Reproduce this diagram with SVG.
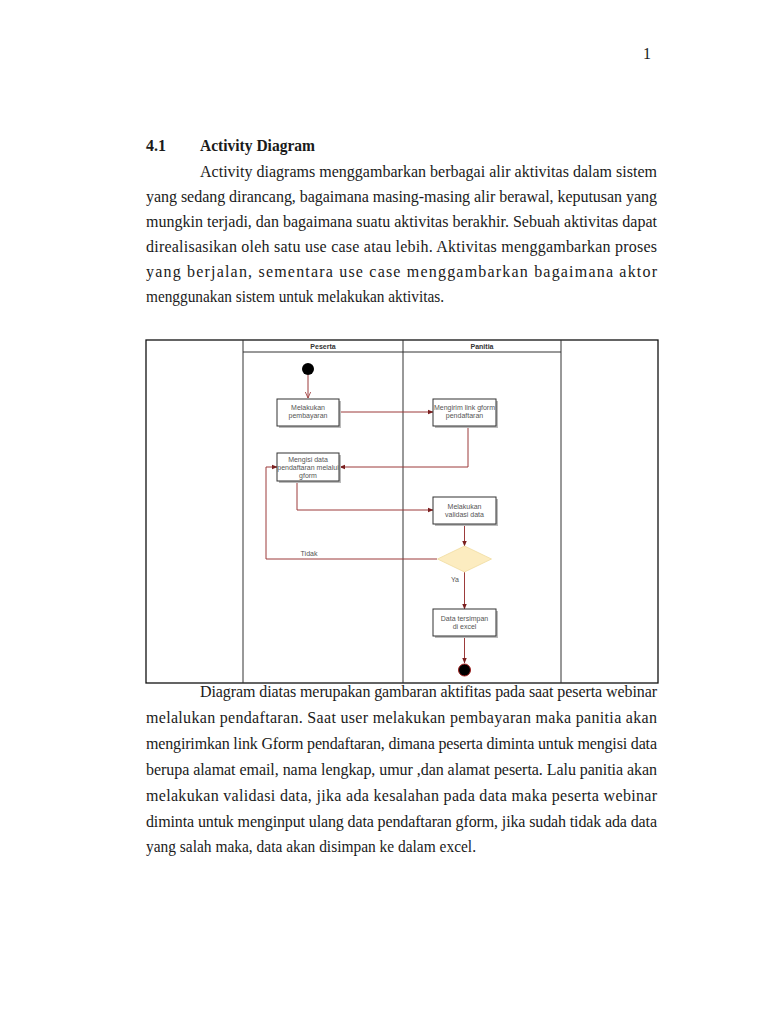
<svg xmlns="http://www.w3.org/2000/svg" width="768" height="1024" viewBox="0 0 768 1024">
<defs>
<style>
.body{font-family:"Liberation Serif","Times New Roman",serif;font-size:16px;fill:#1a1a1a}
.bold{font-weight:bold}
.lbl{font-family:"Liberation Sans",Arial,sans-serif;font-size:7px;fill:#555;text-anchor:middle}
.hdr{font-family:"Liberation Sans",Arial,sans-serif;font-size:7px;font-weight:bold;fill:#333;text-anchor:middle}
.box{fill:#fff;stroke:#333;stroke-width:1}
.shadow{fill:#bbb}
.edge{fill:none;stroke:#9c3b3b;stroke-width:1}
.frame{fill:none;stroke:#111;stroke-width:1.3}
.lane{fill:none;stroke:#333;stroke-width:1}
</style>
<marker id="arr" viewBox="0 0 10 10" refX="9" refY="5" markerWidth="6" markerHeight="6" markerUnits="userSpaceOnUse" orient="auto">
<path d="M0,1 L10,5 L0,9 Z" fill="#7a1f1f"/>
</marker>
<marker id="open" viewBox="0 0 10 10" refX="9" refY="5" markerWidth="7" markerHeight="7" markerUnits="userSpaceOnUse" orient="auto">
<path d="M0,1 L9,5 L0,9" fill="none" stroke="#9c3b3b" stroke-width="1.2"/>
</marker>
</defs>
<rect width="768" height="1024" fill="#fff"/>

<text class="body" x="643" y="59">1</text>

<g id="heading">
<text class="body bold" x="146" y="151">4.1</text>
<text class="body bold" x="200" y="151" textLength="115" lengthAdjust="spacingAndGlyphs">Activity Diagram</text>
</g>

<g id="para1">
<text class="body" x="200" y="177" textLength="457" lengthAdjust="spacing">Activity diagrams menggambarkan berbagai alir aktivitas dalam sistem</text>
<text class="body" x="146" y="202" textLength="511" lengthAdjust="spacing">yang sedang dirancang, bagaimana masing-masing alir berawal, keputusan yang</text>
<text class="body" x="146" y="227" textLength="511" lengthAdjust="spacing">mungkin terjadi, dan bagaimana suatu aktivitas berakhir. Sebuah aktivitas dapat</text>
<text class="body" x="146" y="252" textLength="511" lengthAdjust="spacing">direalisasikan oleh satu use case atau lebih. Aktivitas menggambarkan proses</text>
<text class="body" x="146" y="277" textLength="511" lengthAdjust="spacing">yang berjalan, sementara use case menggambarkan bagaimana aktor</text>
<text class="body" x="146" y="302" textLength="298" lengthAdjust="spacingAndGlyphs">menggunakan sistem untuk melakukan aktivitas.</text>
</g>

<g id="frame">
<rect class="frame" x="146" y="340" width="512" height="343"/>
<line class="lane" x1="243" y1="340" x2="243" y2="683"/>
<line class="lane" x1="403" y1="340" x2="403" y2="683"/>
<line class="lane" x1="561" y1="340" x2="561" y2="683"/>
<line class="lane" x1="243" y1="352" x2="561" y2="352"/>
<text class="hdr" x="323" y="349">Peserta</text>
<text class="hdr" x="482" y="349">Panitia</text>
</g>

<g id="connectors">
<line class="edge" x1="308" y1="375" x2="308" y2="398" marker-end="url(#open)"/>
<line class="edge" x1="339" y1="412" x2="433" y2="412" marker-end="url(#arr)"/>
<polyline class="edge" points="468,426 468,467 340,467" marker-end="url(#arr)"/>
<polyline class="edge" points="297,481 297,510 433,510" marker-end="url(#arr)"/>
<line class="edge" x1="464.5" y1="524" x2="464.5" y2="546" marker-end="url(#arr)"/>
<polyline class="edge" points="437,559 266,559 266,467 277,467" marker-end="url(#arr)"/>
<line class="edge" x1="464.5" y1="572" x2="464.5" y2="609" marker-end="url(#arr)"/>
<line class="edge" x1="464.5" y1="636" x2="464.5" y2="663" marker-end="url(#arr)"/>
<text class="lbl" x="309" y="556">Tidak</text>
<text class="lbl" x="455" y="582">Ya</text>
</g>

<g id="start">
<circle cx="308" cy="369" r="6" fill="#000"/>
</g>

<g id="melakukan-pembayaran">
<rect class="shadow" x="279" y="401" width="62" height="27"/>
<rect class="box" x="277" y="399" width="62" height="27"/>
<text class="lbl" x="308" y="410">Melakukan</text>
<text class="lbl" x="308" y="418">pembayaran</text>
</g>

<g id="mengirim-link">
<rect class="shadow" x="435" y="401" width="63" height="27"/>
<rect class="box" x="433" y="399" width="63" height="27"/>
<text class="lbl" x="464.5" y="410">Mengirim link gform</text>
<text class="lbl" x="464.5" y="418">pendaftaran</text>
</g>

<g id="mengisi-data">
<rect class="shadow" x="279" y="455" width="62" height="28"/>
<rect class="box" x="277" y="453" width="62" height="28"/>
<text class="lbl" x="308" y="462">Mengisi data</text>
<text class="lbl" x="308" y="470">pendaftaran melalui</text>
<text class="lbl" x="308" y="477.5">gform</text>
</g>

<g id="validasi">
<rect class="shadow" x="435" y="499" width="63" height="27"/>
<rect class="box" x="433" y="497" width="63" height="27"/>
<text class="lbl" x="464.5" y="509">Melakukan</text>
<text class="lbl" x="464.5" y="517">validasi data</text>
</g>

<g id="decision">
<polygon points="464.5,546 491.5,559 464.5,572 437.5,559" fill="#fcecc0" stroke="#f0dca0" stroke-width="0.8"/>
</g>

<g id="data-tersimpan">
<rect class="shadow" x="435" y="611" width="63" height="27"/>
<rect class="box" x="433" y="609" width="63" height="27"/>
<text class="lbl" x="464.5" y="621">Data tersimpan</text>
<text class="lbl" x="464.5" y="629">di excel</text>
</g>

<g id="end">
<circle cx="464.5" cy="670" r="6" fill="#000" stroke="#a02020" stroke-width="1"/>
</g>

<g id="para2">
<text class="body" x="200" y="697" textLength="457" lengthAdjust="spacing">Diagram diatas merupakan gambaran aktifitas pada saat peserta webinar</text>
<text class="body" x="146" y="723" textLength="511" lengthAdjust="spacing">melalukan pendaftaran. Saat user melakukan pembayaran maka panitia akan</text>
<text class="body" x="146" y="749" textLength="511" lengthAdjust="spacing">mengirimkan link Gform pendaftaran, dimana peserta diminta untuk mengisi data</text>
<text class="body" x="146" y="775" textLength="511" lengthAdjust="spacing">berupa alamat email, nama lengkap, umur ,dan alamat peserta. Lalu panitia akan</text>
<text class="body" x="146" y="801" textLength="511" lengthAdjust="spacing">melakukan validasi data, jika ada kesalahan pada data maka peserta webinar</text>
<text class="body" x="146" y="827" textLength="511" lengthAdjust="spacing">diminta untuk menginput ulang data pendaftaran gform, jika sudah tidak ada data</text>
<text class="body" x="146" y="852" textLength="330" lengthAdjust="spacingAndGlyphs">yang salah maka, data akan disimpan ke dalam excel.</text>
</g>
</svg>
